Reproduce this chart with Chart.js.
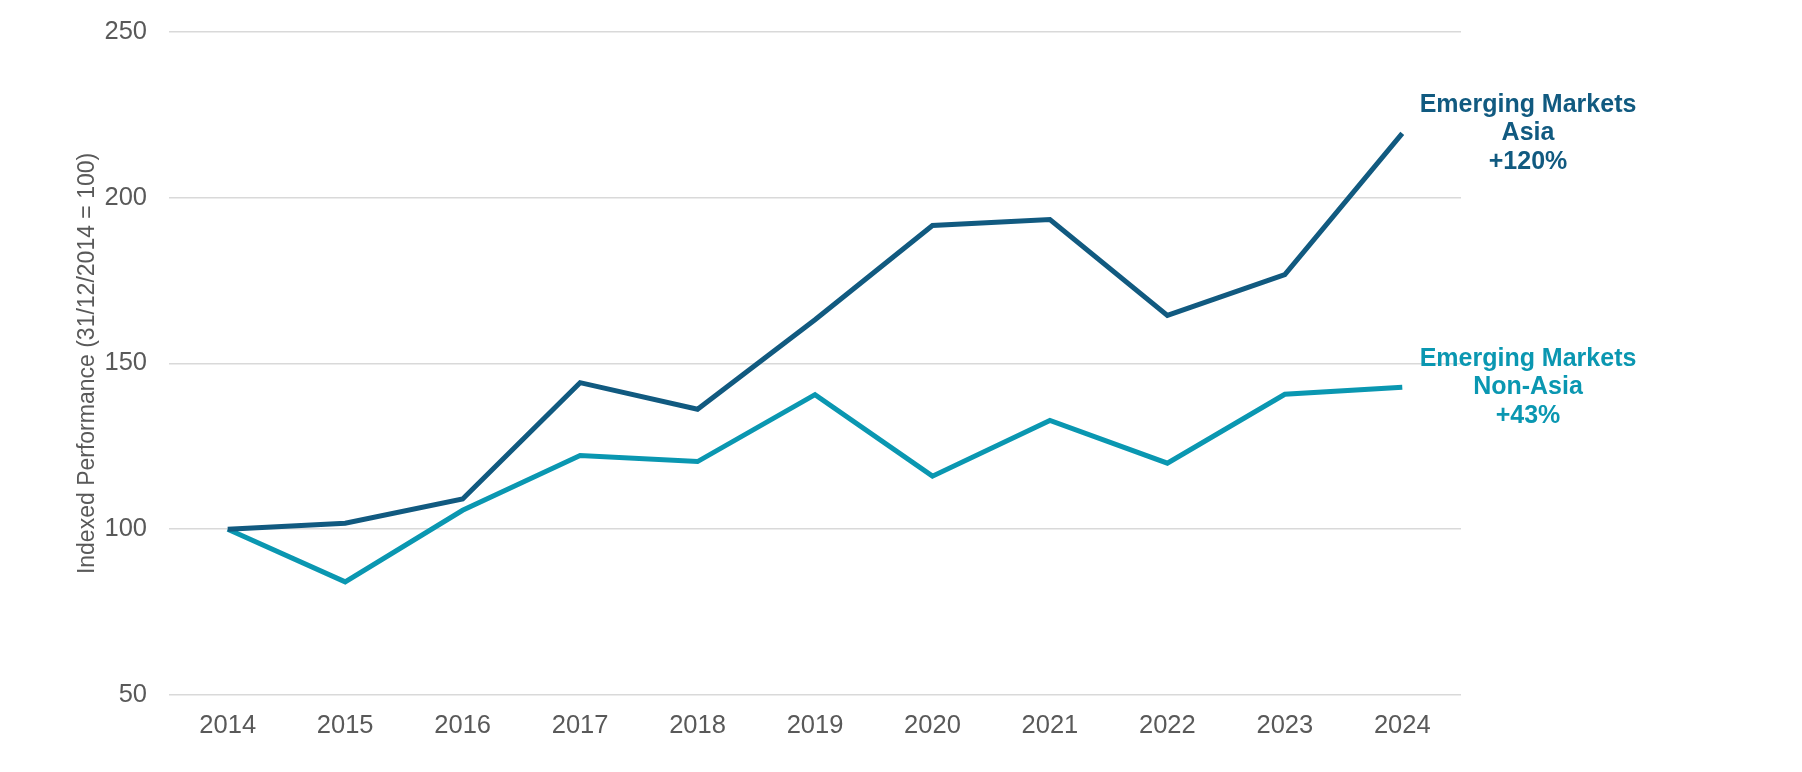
<!DOCTYPE html>
<html>
<head>
<meta charset="utf-8">
<script src="https://cdn.jsdelivr.net/npm/chart.js@4.4.1/dist/chart.umd.min.js"></script>
<style>
  html, body { margin: 0; padding: 0; background: #ffffff; }
  #wrap { width: 1802px; height: 772px; }
</style>
</head>
<body>
<div id="wrap"><canvas id="perfChart" width="1802" height="772"></canvas></div>
<script>
const years = ["2014", "2015", "2016", "2017", "2018", "2019", "2020", "2021", "2022", "2023", "2024"];
const asiaValues = [100, 101.8, 109.1, 144.2, 136.2, 163.2, 191.6, 193.4, 164.5, 176.8, 219.4];
const nonAsiaValues = [100, 84.1, 105.7, 122.2, 120.4, 140.6, 116.0, 132.8, 119.9, 140.7, 142.8];
const yTicks = [50, 100, 150, 200, 250];
const asiaLabel = ["Emerging Markets", "Asia", "+120%"];
const nonAsiaLabel = ["Emerging Markets", "Non-Asia", "+43%"];

const darkBlue = '#115a80';
const teal = '#0a97b1';
const FONT = '"Liberation Sans", Arial, sans-serif';

// labels to the right of each line's last point
const endLabels = {
    id: 'endLabels',
    afterDatasetsDraw(chart) {
        const ctx = chart.ctx;
        const area = chart.chartArea;
        ctx.save();
        ctx.font = 'bold 25px ' + FONT;
        ctx.textAlign = 'center';
        ctx.textBaseline = 'middle';
        chart.data.datasets.forEach((ds, i) => {
            const meta = chart.getDatasetMeta(i);
            const last = meta.data[meta.data.length - 1];
            ctx.fillStyle = ds.borderColor;
            const cx = area.right + 67;
            ds.endText.forEach((line, j) => {
                ctx.fillText(line, cx, last.y + (j - 1) * 28.7);
            });
        });
        ctx.restore();
    }
};

new Chart(document.getElementById('perfChart').getContext('2d'), {
    type: 'line',
    data: {
        labels: years,
        datasets: [{
            label: 'Emerging Markets Asia',
            data: asiaValues,
            endText: asiaLabel,
            borderColor: darkBlue,
            borderWidth: 5,
            pointRadius: 0,
            tension: 0
        }, {
            label: 'Emerging Markets Non-Asia',
            data: nonAsiaValues,
            endText: nonAsiaLabel,
            borderColor: teal,
            borderWidth: 5,
            pointRadius: 0,
            tension: 0
        }]
    },
    options: {
        responsive: false,
        animation: false,
        devicePixelRatio: 1,
        layout: {
            padding: { left: 74, right: 341, top: 0, bottom: 14.5 }
        },
        plugins: {
            legend: { display: false },
            tooltip: { enabled: false }
        },
        scales: {
            x: {
                offset: true,
                grid: { display: false, drawTicks: false },
                border: { display: false },
                ticks: {
                    color: '#595959',
                    padding: 16,
                    font: { family: FONT, size: 25.5 }
                }
            },
            y: {
                min: 50,
                max: 250,
                afterBuildTicks(scale) {
                    scale.ticks = yTicks.map(v => ({ value: v }));
                },
                afterFit(scale) {
                    scale.width = 95;
                    scale.paddingTop = 32;
                },
                grid: { color: '#d9d9d9', lineWidth: 1.5, drawTicks: false },
                border: { display: false },
                ticks: {
                    color: '#595959',
                    padding: 22,
                    font: { family: FONT, size: 25.5 }
                },
                title: {
                    display: true,
                    text: 'Indexed Performance (31/12/2014 = 100)',
                    color: '#595959',
                    padding: { top: 0, bottom: 5 },
                    font: { family: FONT, size: 23 }
                }
            }
        }
    },
    plugins: [endLabels]
});
</script>
</body>
</html>
